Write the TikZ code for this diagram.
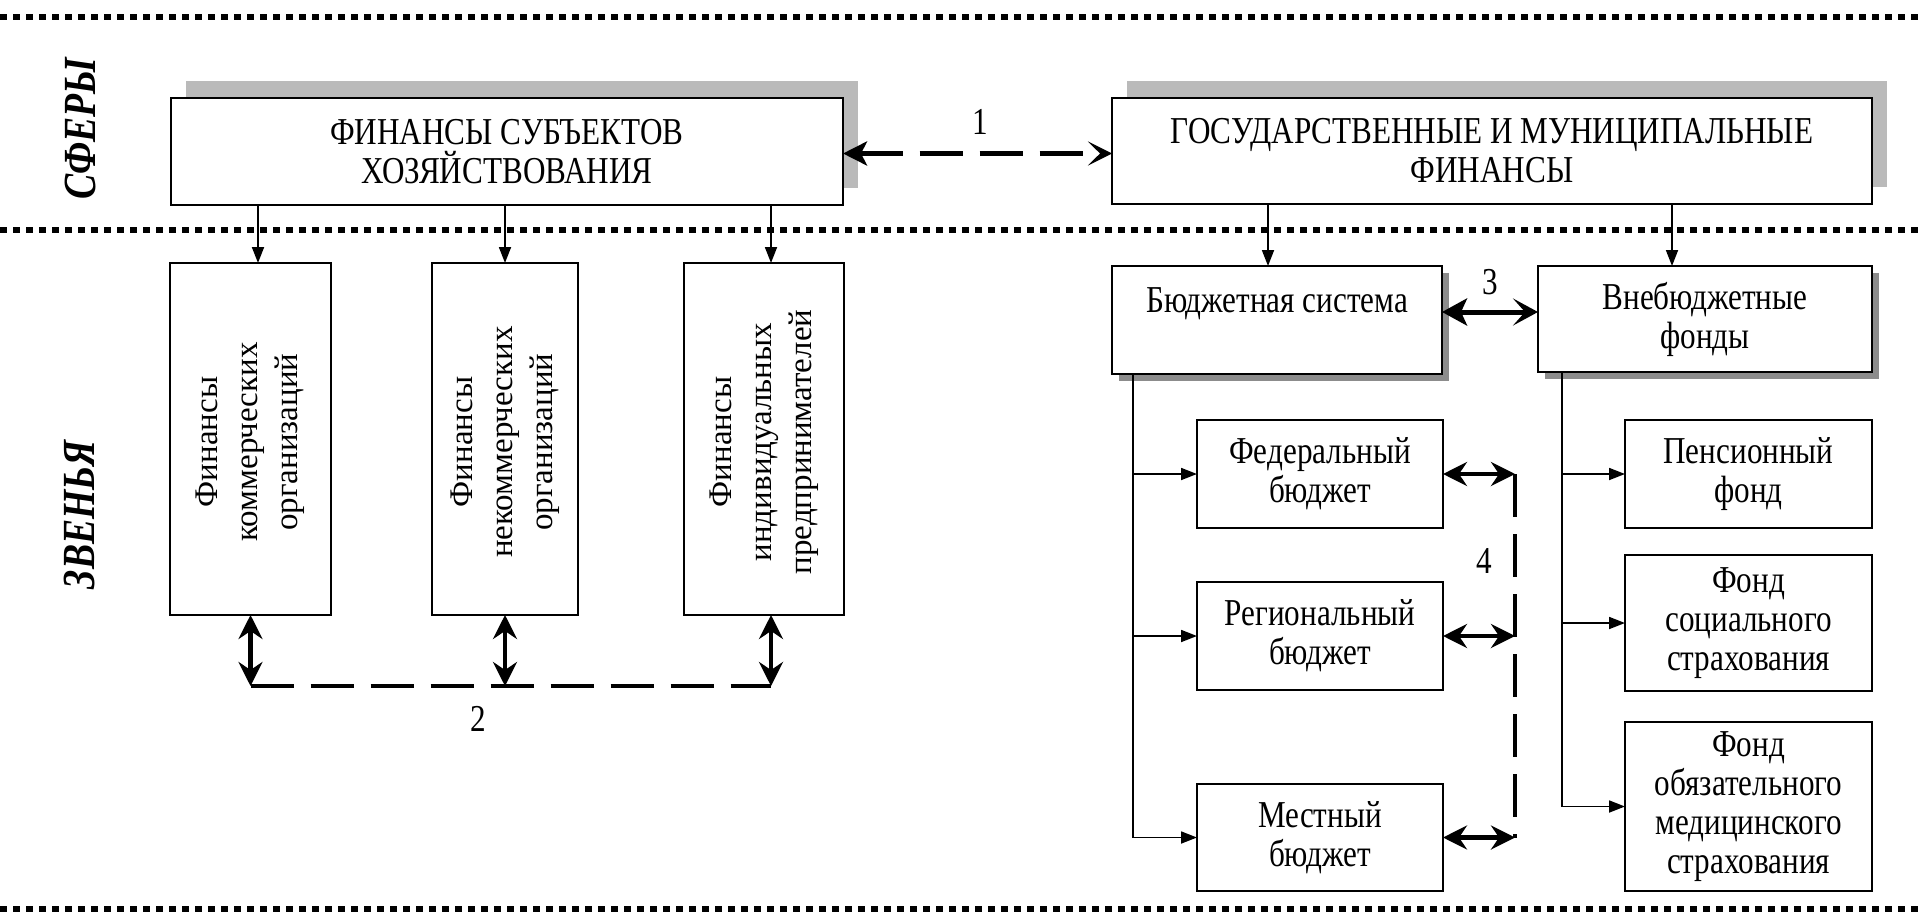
\documentclass[tikz,border=0pt]{standalone}
\usepackage{fontspec}
\setmainfont{Liberation Serif}[FakeStretch=0.82]
\newfontfamily\rotfam{Liberation Serif}
\usetikzlibrary{arrows.meta,shadows}
\begin{document}
\begin{tikzpicture}[x=1pt,y=-1pt,
  every node/.style={inner sep=0pt, outer sep=0pt},
  frame/.style={draw, line width=2.4pt, fill=white, align=center,
    font=\fontsize{38}{39}\selectfont},
  upshade/.style={general shadow={fill=black!27, shadow xshift=15pt, shadow yshift=17pt}},
  sideshade/.style={general shadow={fill=black!45, shadow xshift=7pt, shadow yshift=-7pt}},
  vtext/.style={rotate=90, align=center, font=\rotfam\fontsize{33}{40}\selectfont},
  feed/.style={line width=1.8pt, -{Triangle[length=16pt,width=12pt]}},
  link/.style={line width=4.5pt, {Stealth[length=24pt,width=24pt,inset=8pt]}-{Stealth[length=24pt,width=24pt,inset=8pt]}},
  dlink/.style={line width=4.5pt, dash pattern=on 43pt off 17pt},
  divider/.style={line width=6pt, dash pattern=on 7pt off 6pt},
  num/.style={font=\fontsize{38}{39}\selectfont},
  sphere/.style={rotate=90, font=\fontsize{46}{46}\selectfont\bfseries\itshape},
]
\useasboundingbox (0,0) rectangle (1921,920);

% section dividers
\draw[divider] (0,17) -- (1921,17);
\draw[divider] (0,230) -- (1921,230);
\draw[divider] (0,909) -- (1921,909);

% side captions
\node[sphere] (lsph) at (80,129) {СФЕРЫ};
\node[sphere] (llnk) at (80,515) {ЗВЕНЬЯ};

% spheres
\node[frame, upshade, minimum width=672pt, minimum height=107pt] (A) at (507,151.5)
  {ФИНАНСЫ СУБЪЕКТОВ\\ХОЗЯЙСТВОВАНИЯ};
\node[frame, upshade, minimum width=760pt, minimum height=106pt] (B) at (1492,151)
  {ГОСУДАРСТВЕННЫЕ И МУНИЦИПАЛЬНЫЕ\\ФИНАНСЫ};

% business finance links
\node[frame, minimum width=161pt, minimum height=352pt] (C1) at (250.5,439) {};
\node[frame, minimum width=146pt, minimum height=352pt] (C2) at (505,439) {};
\node[frame, minimum width=160pt, minimum height=352pt] (C3) at (764,439) {};
\node[vtext] (C1t) at ([yshift=-3pt]C1) {Финансы\\коммерческих\\организаций};
\node[vtext] (C2t) at ([yshift=-3pt]C2) {Финансы\\некоммерческих\\организаций};
\node[vtext] (C3t) at ([yshift=-3pt]C3) {Финансы\\индивидуальных\\предпринимателей};

% public finance links
\node[frame, sideshade, minimum width=330pt, minimum height=108pt] (D) at (1277,320)
  {Бюджетная система\\\phantom{с}};
\node[frame, sideshade, minimum width=334pt, minimum height=106pt] (E) at (1705,319)
  {Внебюджетные\\фонды};

\node[frame, minimum width=246pt, minimum height=108pt] (F1) at (1320,474) {Федеральный\\бюджет};
\node[frame, minimum width=246pt, minimum height=108pt] (F2) at (1320,636) {Региональный\\бюджет};
\node[frame, minimum width=246pt, minimum height=107pt] (F3) at (1320,837.5) {Местный\\бюджет};

\node[frame, minimum width=247pt, minimum height=108pt] (P1) at (1748.5,474) {Пенсионный\\фонд};
\node[frame, minimum width=247pt, minimum height=136pt] (P2) at (1748.5,623) {Фонд\\социального\\страхования};
\node[frame, minimum width=247pt, minimum height=169pt] (P3) at (1748.5,806.5) {Фонд\\обязательного\\медицинского\\страхования};

% helper positions
\coordinate (bus) at (0,686);
\coordinate (r3) at (0,312);
\coordinate (a1) at (258,0);
\coordinate (a3) at (771,0);
\coordinate (tL) at (1133,0);
\coordinate (d4) at (1515,0);
\coordinate (tR) at (1562,0);
\coordinate (bL) at (1268,0);
\coordinate (bR) at (1672,0);

% sphere to sphere
\draw[dlink, {Stealth[length=24pt,width=24pt,inset=6pt]}-{Stealth[length=24pt,width=24pt,inset=12pt]}]
  ([yshift=-2pt]A.east) -- ([yshift=-2pt]A.east -| B.west);
\node[num] (n1) at (980,122) {1};

% sphere to links
\draw[feed] (A.south -| a1) -- (C1.north -| a1);
\draw[feed] (A.south -| C2.north) -- (C2.north);
\draw[feed] (A.south -| a3) -- (C3.north -| a3);
\draw[feed] (B.south -| bL) -- (D.north -| bL);
\draw[feed] (B.south -| bR) -- (E.north -| bR);

% relations between business links
\draw[link] (C1.south) -- (C1.south |- bus);
\draw[link] (C2.south) -- (C2.south |- bus);
\draw[link] (C3.south -| a3) -- (bus -| a3);
\draw[dlink] (C1.south |- bus) -- (bus -| a3);
\node[num] (n2) at (478,719) {2};

% budget system and funds
\draw[line width=5pt, {Stealth[length=25pt,width=27pt,inset=6pt]}-{Stealth[length=25pt,width=27pt,inset=12pt]}]
  (D.east |- r3) -- (E.west |- r3);
\node[num] (n3) at (1490,282) {3};

\draw[line width=1.8pt] (D.south -| tL) -- (F3.west -| tL);
\draw[feed] (F1.west -| tL) -- (F1.west);
\draw[feed] (F2.west -| tL) -- (F2.west);
\draw[feed] (F3.west -| tL) -- (F3.west);

\draw[dlink] (F1.east -| d4) -- (F3.east -| d4);
\draw[link] (F1.east) -- (F1.east -| d4);
\draw[link] (F2.east) -- (F2.east -| d4);
\draw[link] (F3.east) -- (F3.east -| d4);
\node[num] (n4) at (1484,561) {4};

\draw[line width=1.8pt] (E.south -| tR) -- (P3.west -| tR);
\draw[feed] (P1.west -| tR) -- (P1.west);
\draw[feed] (P2.west -| tR) -- (P2.west);
\draw[feed] (P3.west -| tR) -- (P3.west);

\end{tikzpicture}
\end{document}
